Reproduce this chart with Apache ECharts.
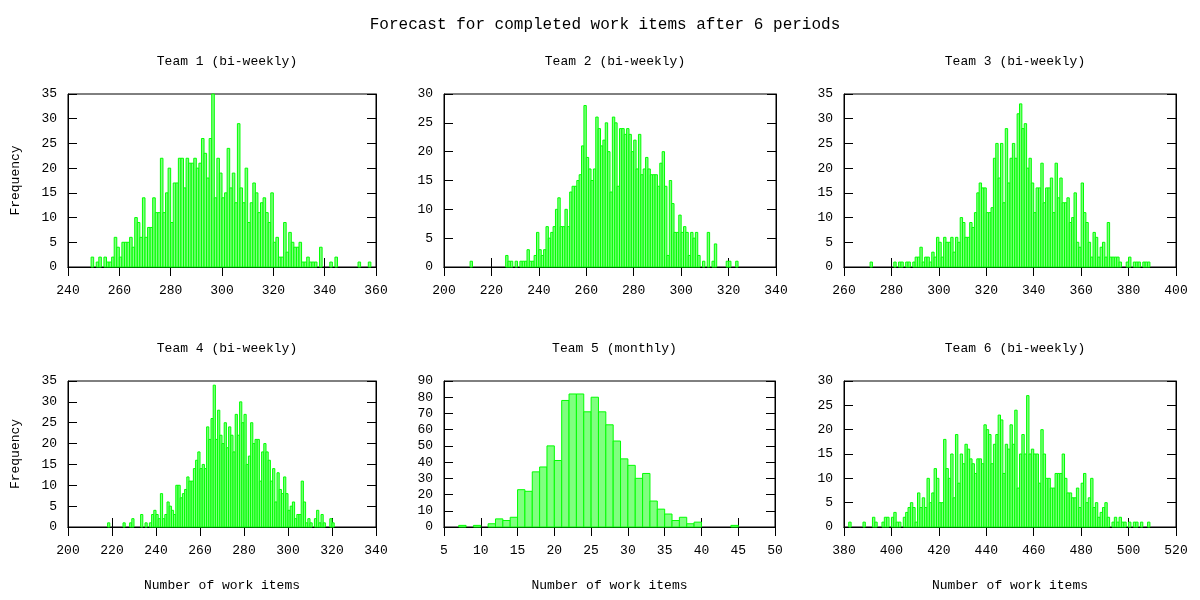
<!DOCTYPE html>
<html>
<head>
<meta charset="utf-8">
<title>Forecast for completed work items</title>
<script src="https://cdn.jsdelivr.net/npm/echarts@6/dist/echarts.min.js"></script>
<style>
  html, body { margin: 0; padding: 0; background: #fff; }
  #chart { width: 1200px; height: 600px; }
</style>
</head>
<body>
<div id="chart"></div>
<script>
// histogram data: first bin + counts per bin (bin width 1)
const team1Start = 249;
const team1Counts = [
  2, 0, 1, 2, 0, 2, 1, 1, 2, 6,
  4, 2, 5, 5, 5, 6, 4, 10, 9, 6,
  14, 6, 8, 8, 14, 11, 11, 22, 11, 15,
  20, 9, 17, 17, 22, 22, 16, 22, 21, 21,
  22, 20, 21, 26, 23, 18, 26, 35, 14, 22,
  19, 14, 15, 24, 16, 19, 13, 29, 16, 13,
  20, 9, 13, 17, 15, 11, 13, 14, 11, 9,
  15, 5, 6, 2, 2, 9, 3, 7, 5, 4,
  4, 5, 1, 1, 2, 1, 1, 1, 0, 4,
  0, 0, 0, 1, 0, 2, 0, 0, 0, 0,
  0, 0, 0, 0, 1, 0, 0, 0, 1
];

const team2Start = 211;
const team2Counts = [
  1, 0, 0, 0, 0, 0, 0, 0, 0, 0,
  0, 0, 0, 0, 0, 2, 1, 1, 0, 1,
  0, 1, 1, 1, 3, 1, 1, 2, 6, 3,
  2, 3, 7, 5, 6, 7, 10, 12, 7, 7,
  10, 7, 13, 14, 14, 15, 16, 21, 28, 19,
  17, 15, 17, 26, 24, 21, 22, 25, 20, 13,
  26, 25, 14, 24, 24, 23, 24, 23, 20, 22,
  17, 23, 16, 17, 19, 17, 16, 16, 16, 14,
  18, 20, 14, 2, 15, 11, 6, 6, 9, 6,
  7, 6, 2, 6, 5, 6, 2, 0, 1, 0,
  6, 0, 1, 4, 0, 0, 0, 0, 1, 1,
  0, 0, 1
];

const team3Start = 271;
const team3Counts = [
  1, 0, 0, 0, 0, 0, 0, 0, 0, 0,
  1, 0, 1, 1, 0, 1, 1, 0, 1, 2,
  2, 4, 1, 2, 2, 1, 3, 2, 6, 5,
  2, 6, 5, 5, 6, 3, 6, 5, 10, 9,
  6, 6, 9, 8, 11, 15, 17, 16, 16, 11,
  11, 12, 22, 25, 18, 25, 13, 28, 17, 22,
  25, 22, 31, 33, 28, 29, 20, 22, 17, 11,
  16, 16, 21, 13, 16, 16, 18, 11, 21, 14,
  18, 13, 13, 14, 9, 10, 15, 5, 4, 17,
  11, 9, 5, 2, 7, 6, 2, 4, 5, 2,
  9, 2, 2, 2, 2, 1, 0, 0, 1, 2,
  0, 1, 1, 1, 0, 1, 1, 1
];

const team4Start = 218;
const team4Counts = [
  1, 0, 0, 0, 0, 0, 0, 1, 0, 0,
  1, 2, 0, 0, 0, 3, 0, 1, 0, 1,
  3, 4, 3, 2, 8, 2, 3, 6, 5, 4,
  3, 10, 10, 7, 8, 9, 12, 11, 11, 14,
  16, 18, 14, 15, 14, 24, 21, 26, 34, 21,
  28, 22, 20, 25, 19, 24, 22, 18, 27, 22,
  30, 25, 27, 15, 17, 25, 20, 21, 21, 11,
  18, 20, 18, 16, 11, 14, 6, 13, 9, 8,
  12, 8, 4, 5, 6, 2, 3, 3, 11, 6,
  1, 2, 1, 0, 2, 4, 1, 3, 1, 0,
  0, 2, 1
];

const team5Start = 7;
const team5Counts = [
  1, 0, 1, 0, 2, 5, 4, 6, 23, 22,
  34, 37, 50, 41, 78, 82, 82, 71, 80, 71,
  63, 53, 42, 38, 30, 33, 16, 11, 8, 4,
  6, 2, 3, 0, 0, 0, 0, 1
];

const team6Start = 382;
const team6Counts = [
  1, 0, 0, 0, 0, 0, 1, 0, 0, 0,
  2, 1, 0, 0, 1, 2, 2, 0, 2, 3,
  1, 1, 0, 2, 3, 4, 5, 4, 1, 7,
  4, 6, 4, 10, 5, 7, 12, 10, 5, 5,
  18, 12, 10, 15, 6, 19, 9, 15, 13, 17,
  16, 14, 13, 11, 14, 14, 13, 21, 20, 19,
  13, 17, 19, 23, 22, 11, 17, 16, 21, 17,
  24, 8, 15, 19, 15, 27, 15, 16, 15, 15,
  9, 20, 15, 10, 10, 8, 8, 11, 11, 11,
  15, 10, 7, 7, 6, 6, 8, 4, 9, 11,
  5, 6, 10, 4, 5, 2, 3, 4, 5, 2,
  0, 1, 2, 1, 2, 1, 1, 0, 1, 0,
  1, 1, 0, 1, 0, 0, 1
];

const panelTitles = [
  'Team 1 (bi-weekly)', 'Team 2 (bi-weekly)', 'Team 3 (bi-weekly)',
  'Team 4 (bi-weekly)', 'Team 5 (monthly)', 'Team 6 (bi-weekly)'
];
const xRanges = [[240, 360, 20], [200, 340, 20], [260, 400, 20], [200, 340, 20], [5, 50, 5], [380, 520, 20]];
const yRanges = [[0, 35, 5], [0, 30, 5], [0, 35, 5], [0, 35, 5], [0, 90, 10], [0, 30, 5]];

const panels = [
  { start: team1Start, counts: team1Counts },
  { start: team2Start, counts: team2Counts },
  { start: team3Start, counts: team3Counts },
  { start: team4Start, counts: team4Counts },
  { start: team5Start, counts: team5Counts },
  { start: team6Start, counts: team6Counts }
];

// grid boxes in px (left, top, width, height)
const boxes = [
  [68, 94, 308, 173], [444, 94, 332, 173], [844, 94, 332, 173],
  [68, 381, 308, 146], [444, 381, 331, 146], [844, 381, 332, 146]
];

const FONT = '"Liberation Mono", "DejaVu Sans Mono", monospace';
const chart = echarts.init(document.getElementById('chart'), null, { renderer: 'canvas' });

function renderBar(params, api) {
  const x = api.value(0);
  const y = api.value(1);
  if (!y) return null;
  const p0 = api.coord([x, 0]);
  const p1 = api.coord([x + 1, y]);
  return {
    type: 'rect',
    shape: { x: p0[0], y: p1[1], width: p1[0] - p0[0], height: p0[1] - p1[1] },
    style: { fill: '#80ff80', stroke: '#00ff00', lineWidth: 1 }
  };
}

const grids = [];
const xAxes = [];
const yAxes = [];
const series = [];
const titles = [{
  text: 'Forecast for completed work items after 6 periods',
  left: 600, top: 12, textAlign: 'center',
  textStyle: { fontFamily: FONT, fontSize: 16, fontWeight: 'normal', color: '#000' }
}];

panels.forEach((p, i) => {
  const b = boxes[i];
  grids.push({
    left: b[0], top: b[1], width: b[2], height: b[3],
    show: true, borderColor: '#000', borderWidth: 1, backgroundColor: 'transparent'
  });
  titles.push({
    text: panelTitles[i],
    left: b[0] + b[2] / 2, top: b[1] - 44, textAlign: 'center',
    textStyle: { fontFamily: FONT, fontSize: 13, fontWeight: 'normal', color: '#000' }
  });
  const xr = xRanges[i];
  const yr = yRanges[i];
  const bottomRow = i >= 3;
  const firstCol = i % 3 === 0;
  const tick = { inside: true, length: 9, lineStyle: { color: '#000', width: 1 } };
  xAxes.push({
    type: 'value', gridIndex: i, position: 'bottom',
    min: xr[0], max: xr[1], interval: xr[2],
    axisLine: { lineStyle: { color: '#000', width: 1 } },
    axisTick: tick,
    splitLine: { show: false },
    axisLabel: { color: '#000', fontFamily: FONT, fontSize: 13, margin: 17 },
    name: bottomRow ? 'Number of work items' : '',
    nameLocation: 'middle', nameGap: 52,
    nameTextStyle: { color: '#000', fontFamily: FONT, fontSize: 13 }
  });
  xAxes.push({
    type: 'value', gridIndex: i, position: 'top',
    min: xr[0], max: xr[1], interval: xr[2],
    axisLine: { lineStyle: { color: '#000', width: 1 } },
    axisTick: tick,
    splitLine: { show: false },
    axisLabel: { show: false }
  });
  yAxes.push({
    type: 'value', gridIndex: i, position: 'left',
    min: yr[0], max: yr[1], interval: yr[2],
    axisLine: { show: true, lineStyle: { color: '#000', width: 1 } },
    axisTick: tick,
    splitLine: { show: false },
    axisLabel: { color: '#000', fontFamily: FONT, fontSize: 13, margin: 11 },
    name: firstCol ? 'Frequency' : '',
    nameLocation: 'middle', nameGap: 46, nameRotate: 90,
    nameTextStyle: { color: '#000', fontFamily: FONT, fontSize: 13 }
  });
  yAxes.push({
    type: 'value', gridIndex: i, position: 'right',
    min: yr[0], max: yr[1], interval: yr[2],
    axisLine: { show: true, lineStyle: { color: '#000', width: 1 } },
    axisTick: tick,
    splitLine: { show: false },
    axisLabel: { show: false }
  });
  series.push({
    type: 'custom',
    xAxisIndex: i * 2,
    yAxisIndex: i * 2,
    renderItem: renderBar,
    encode: { x: 0, y: 1 },
    data: p.counts.map((c, k) => [p.start + k, c]),
    silent: true,
    z: 1
  });
});

chart.setOption({
  animation: false,
  backgroundColor: '#fff',
  title: titles,
  grid: grids,
  xAxis: xAxes,
  yAxis: yAxes,
  series: series
});
</script>
</body>
</html>
